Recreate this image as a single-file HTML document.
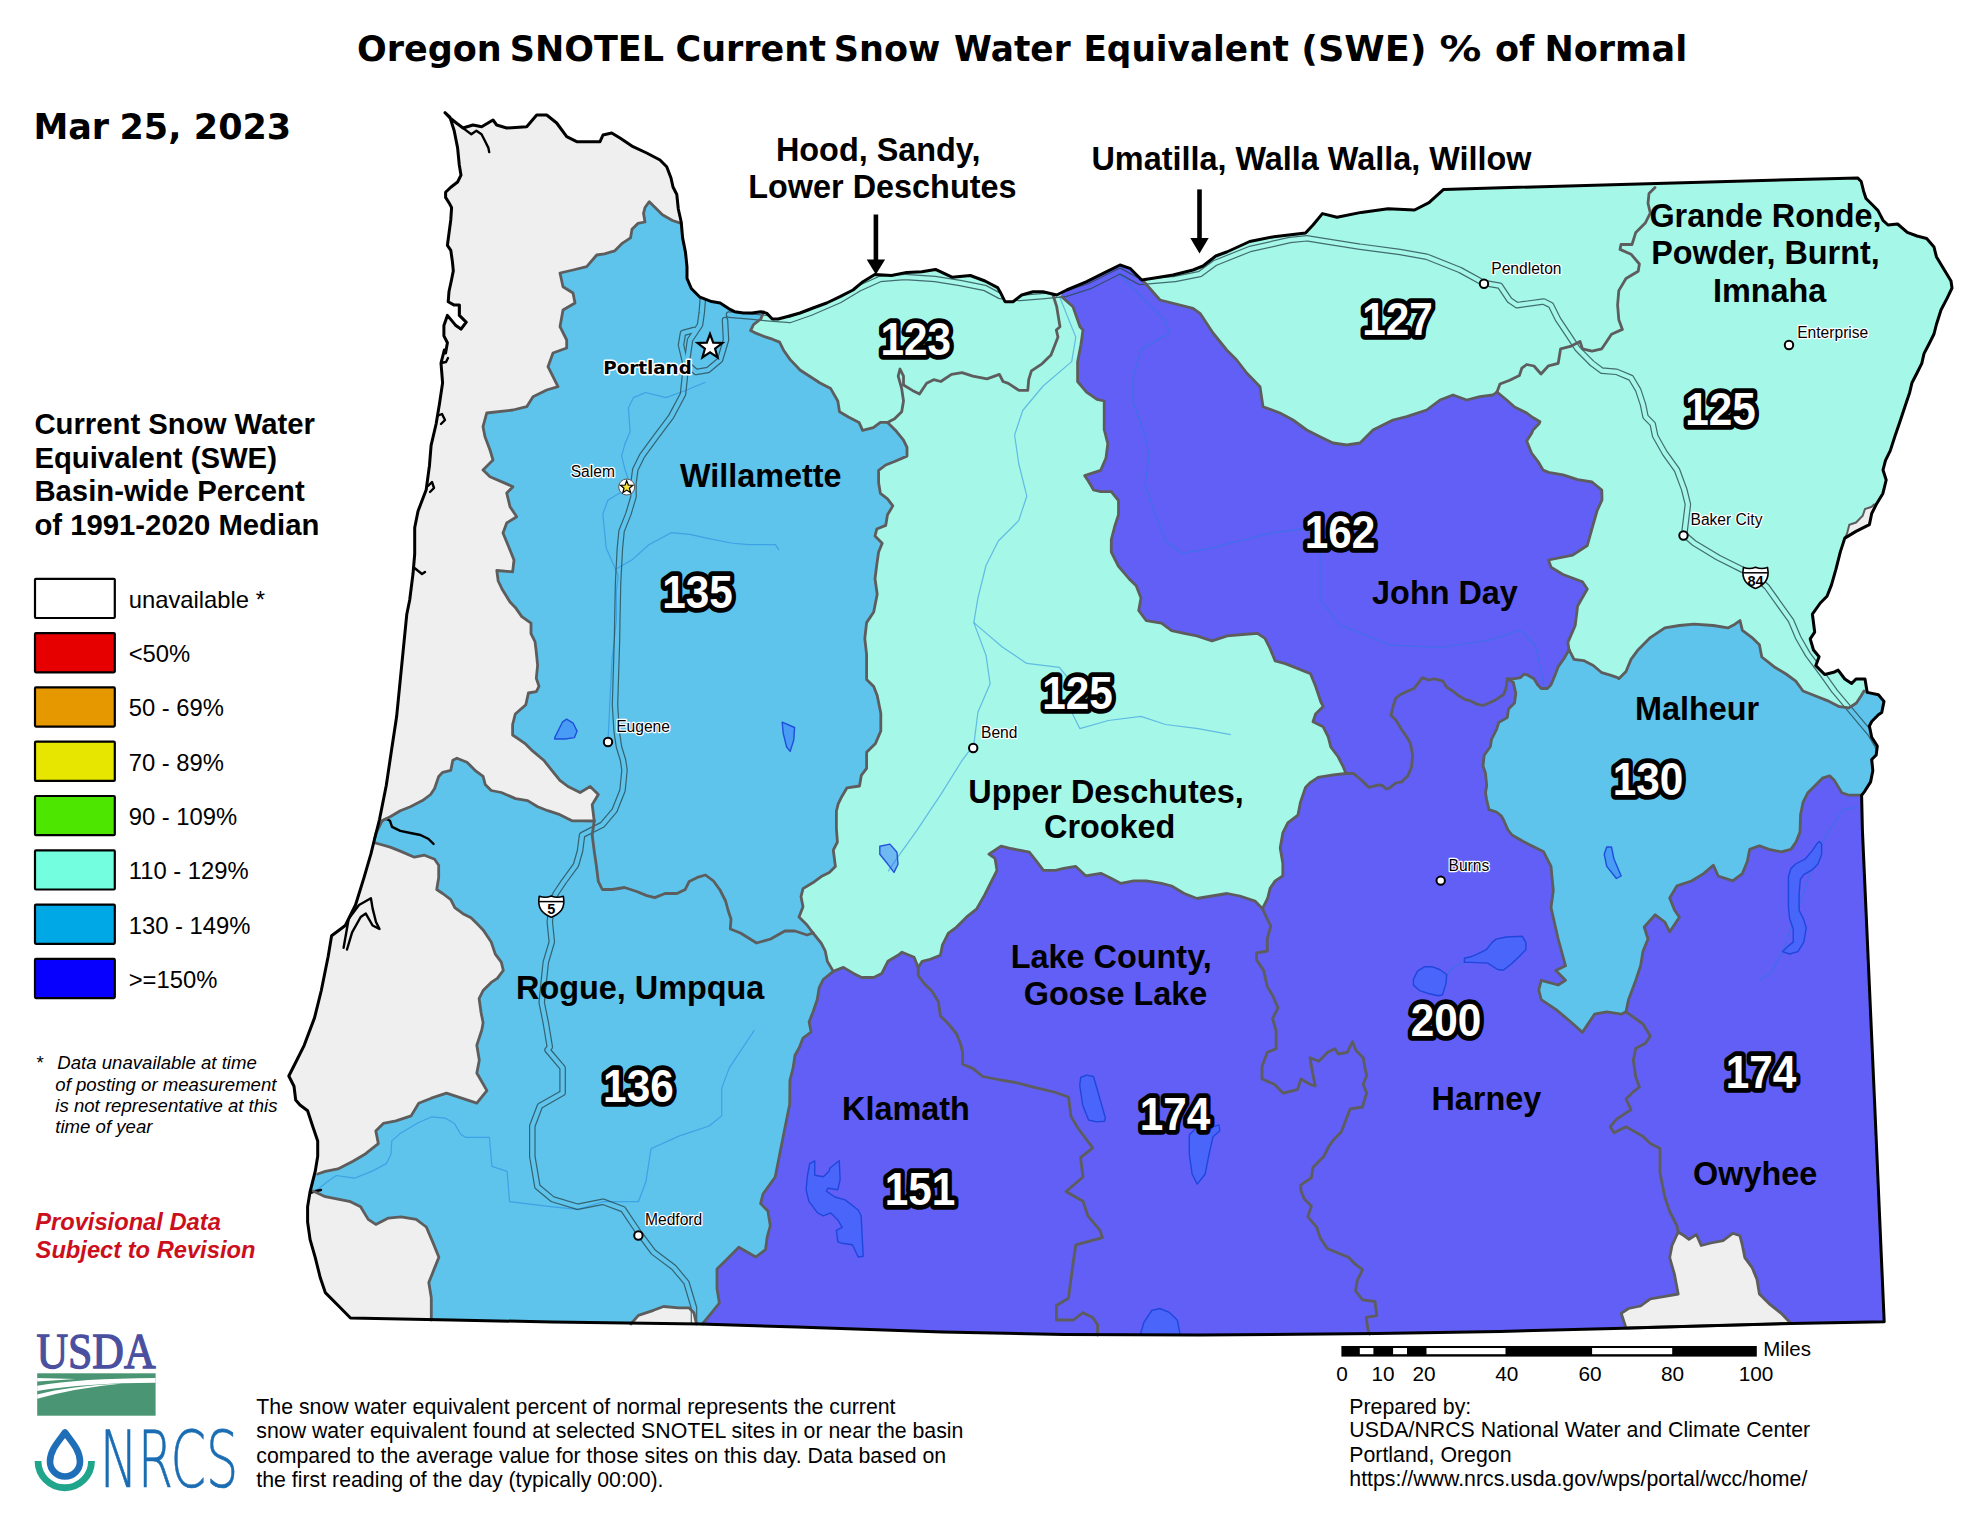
<!DOCTYPE html>
<html><head><meta charset="utf-8"><title>Oregon SNOTEL Current Snow Water Equivalent (SWE) % of Normal</title><style>
html,body{margin:0;padding:0;background:#fff;}
svg{display:block;}
</style></head><body>
<svg width="1980" height="1520" viewBox="0 0 1980 1520">
<rect width="1980" height="1520" fill="#fff"/>
<defs><clipPath id="or"><polygon points="445.0,112.7 450.0,118.0 456.7,123.3 463.0,128.0 473.0,125.0 481.7,126.7 493.0,120.0 496.7,125.0 506.7,128.0 526.7,126.7 536.7,115.0 546.7,115.0 556.7,123.0 566.7,136.7 576.7,141.7 600.0,141.7 603.0,135.0 611.7,133.0 620.0,138.0 633.0,146.7 646.7,153.0 660.0,160.0 666.7,166.7 671.0,178.0 673.0,187.0 676.8,194.5 678.3,209.0 681.2,222.0 682.6,237.9 685.5,252.4 687.0,266.8 687.0,278.4 691.3,288.5 700.0,297.2 711.6,301.6 720.2,303.0 729.0,308.8 734.7,311.7 743.4,313.1 752.0,313.1 760.8,311.7 766.6,313.1 772.3,319.0 778.1,319.0 786.7,316.7 800.0,313.0 813.0,308.0 826.7,303.0 840.0,296.7 853.0,290.0 863.0,281.7 874.8,274.5 891.5,275.5 906.7,272.4 921.8,271.7 935.5,269.4 952.0,277.2 970.3,275.5 985.0,281.0 997.6,287.6 1000.0,291.7 1005.0,301.7 1013.0,301.7 1021.7,295.0 1033.0,291.7 1043.0,291.7 1056.7,295.0 1066.7,290.0 1086.7,281.7 1106.7,271.7 1120.0,265.0 1130.0,268.3 1141.7,280.0 1153.0,278.3 1173.0,275.0 1193.0,270.0 1203.0,266.0 1215.8,256.0 1226.7,252.0 1249.7,241.5 1274.0,236.7 1305.5,233.0 1313.0,225.0 1322.4,213.6 1337.0,217.3 1361.2,212.4 1388.0,208.8 1414.5,210.0 1429.0,202.7 1443.6,189.4 1857.6,177.9 1861.2,181.5 1863.6,191.2 1866.0,198.5 1873.3,205.8 1878.0,210.6 1883.0,220.3 1888.0,225.0 1897.6,224.0 1907.3,232.4 1917.0,236.0 1926.7,238.5 1934.0,247.0 1936.4,256.7 1943.6,268.8 1951.0,281.0 1952.0,288.0 1947.3,297.9 1941.0,310.0 1936.4,324.5 1934.0,334.0 1929.0,344.0 1924.0,353.6 1921.8,363.3 1917.0,373.0 1912.0,382.7 1909.7,392.4 1904.8,407.0 1900.0,421.5 1895.0,436.0 1890.3,450.6 1885.5,460.3 1883.0,470.0 1886.2,480.0 1882.9,493.4 1876.2,504.6 1871.7,513.5 1869.4,524.7 1856.0,531.4 1844.8,538.1 1840.4,551.6 1835.9,569.4 1831.4,585.1 1827.0,596.3 1820.3,603.0 1812.4,614.2 1814.7,632.1 1810.2,638.8 1813.5,650.0 1819.1,656.7 1815.8,665.6 1824.7,674.5 1833.7,672.3 1838.1,670.1 1844.8,679.0 1851.6,683.5 1856.0,679.0 1865.0,679.0 1867.2,692.4 1878.4,694.7 1884.0,701.4 1881.7,712.6 1878.4,714.8 1871.7,721.5 1869.4,726.0 1871.7,737.2 1877.3,746.1 1876.2,755.0 1871.7,759.5 1872.8,770.7 1870.6,781.9 1865.0,790.8 1861.6,795.3 1862.4,830.0 1874.5,1100.0 1884.2,1321.8 1791.0,1323.5 1700.0,1326.0 1614.0,1328.5 1500.0,1331.5 1376.8,1333.5 1200.0,1335.0 1063.6,1334.5 942.4,1332.0 797.0,1327.0 700.0,1324.0 552.5,1322.0 451.5,1320.0 350.5,1318.0 337.9,1305.3 325.3,1292.6 320.2,1277.5 315.2,1257.3 310.1,1239.6 307.6,1222.0 307.6,1206.8 310.1,1191.6 315.2,1171.4 317.7,1156.3 317.7,1141.1 312.6,1126.0 307.6,1110.8 300.0,1105.0 295.7,1100.0 294.0,1086.3 288.8,1076.0 294.0,1065.8 304.2,1045.3 314.5,1017.9 321.3,990.5 328.2,956.3 331.6,935.8 345.3,925.5 355.5,905.0 364.0,877.6 371.0,853.7 374.3,840.0 379.5,819.5 386.3,785.3 391.4,751.0 396.6,716.8 400.0,682.6 403.4,648.4 406.8,614.2 409.7,600.0 413.0,573.8 414.7,554.0 414.7,527.7 418.0,511.2 426.2,489.8 429.5,465.2 431.1,445.4 436.1,424.0 439.4,404.3 442.6,382.9 441.0,363.2 444.3,350.0 445.6,353.0 447.4,342.7 443.9,335.9 443.9,325.6 447.4,315.4 455.9,325.6 461.0,329.1 466.2,322.2 459.3,315.4 459.3,305.1 454.2,305.1 448.2,301.7 449.0,291.5 451.6,279.5 453.3,270.9 452.5,262.4 450.8,250.4 447.4,245.3 449.0,233.3 450.8,219.7 451.6,207.7 449.9,204.3 445.6,197.4 445.6,192.3 450.8,187.2 457.6,182.0 461.0,175.2 459.3,165.0 457.6,147.9 454.2,130.8 449.9,117.1"/></clipPath></defs><g clip-path="url(#or)"><polygon points="250.0,60.0 2000.0,60.0 2000.0,1400.0 250.0,1400.0" fill="#5ec4ec"/><polygon points="681.2,223.4 672.5,220.5 662.4,214.7 655.1,207.5 649.3,201.7 645.0,207.5 643.5,213.3 645.0,222.0 637.8,223.4 632.0,229.2 630.5,237.9 621.8,243.7 614.6,250.9 604.5,253.8 596.7,255.0 586.7,266.7 573.0,270.0 560.0,273.0 563.0,286.7 573.0,293.0 575.0,303.0 563.0,310.0 560.0,326.7 566.7,340.0 566.7,348.0 553.0,353.0 548.0,366.7 558.0,386.7 546.7,390.0 533.0,396.7 526.7,406.7 513.0,410.0 486.7,413.0 483.0,426.7 485.0,436.7 490.0,450.0 493.0,460.0 483.0,470.0 490.0,476.7 513.0,486.7 506.7,493.0 510.0,506.7 516.7,516.7 506.7,523.0 503.0,533.0 510.0,550.0 514.0,560.0 512.6,571.8 496.8,570.5 498.2,581.0 502.0,589.0 510.0,602.0 515.3,607.4 521.8,616.6 531.0,623.2 531.0,633.7 535.0,641.6 536.3,652.0 537.6,665.3 536.3,678.4 539.0,686.3 536.3,691.6 528.4,693.0 525.8,704.7 515.3,714.0 512.6,724.5 512.6,735.0 520.5,740.3 525.8,744.2 531.6,750.1 543.7,760.2 551.8,770.3 559.9,780.4 568.0,786.5 580.1,792.5 590.2,786.5 598.3,794.5 592.2,804.6 594.2,821.0 594.2,821.0 582.1,820.8 572.0,820.8 559.9,814.7 547.8,810.7 537.7,806.7 527.6,800.6 515.5,798.6 501.3,792.5 491.2,790.5 485.2,784.4 483.1,776.4 475.0,770.3 467.0,762.2 456.9,758.2 452.8,760.2 450.8,770.3 442.7,772.3 438.7,776.4 434.6,788.5 430.6,794.5 422.5,800.6 410.4,806.7 400.3,810.7 390.2,816.8 382.1,820.8 376.1,832.9 374.3,840.0 360.0,845.0 250.0,845.0 250.0,60.0 690.0,60.0 690.0,215.0" fill="#efefef"/><polygon points="375.5,843.0 390.2,847.1 400.3,851.1 414.4,857.2 424.5,855.2 434.6,859.2 438.7,865.3 438.7,877.4 436.7,889.5 442.7,893.5 450.8,899.6 454.8,907.7 462.9,913.7 471.0,917.8 477.1,923.8 483.1,929.9 487.2,936.0 491.2,942.0 495.3,954.1 501.3,962.2 503.3,970.3 497.3,978.4 491.2,982.4 483.1,990.5 479.1,998.6 481.1,1012.7 483.1,1022.8 481.8,1030.0 476.8,1045.2 479.3,1060.3 476.8,1073.0 486.9,1090.6 476.8,1103.2 461.6,1098.2 446.5,1093.1 431.3,1098.2 418.7,1103.2 411.1,1115.9 396.0,1120.9 383.3,1123.4 375.8,1131.0 378.3,1143.6 365.7,1153.7 353.0,1161.3 337.9,1168.9 325.3,1171.4 317.7,1174.0 250.0,1174.0 250.0,843.0" fill="#efefef"/><polygon points="313.0,1191.0 325.3,1196.7 337.9,1199.2 350.5,1201.7 360.6,1206.8 368.2,1219.4 375.8,1224.4 388.4,1218.1 401.0,1216.9 416.2,1219.4 426.3,1227.0 433.8,1244.6 438.9,1257.3 433.8,1269.9 428.8,1282.5 431.3,1297.7 431.3,1320.0 431.3,1360.0 250.0,1360.0 250.0,1191.0" fill="#efefef"/><polygon points="763.7,311.7 760.8,319.0 753.5,324.7 750.6,330.5 756.4,333.4 763.7,336.3 772.3,339.2 779.6,342.1 783.9,350.8 790.0,359.4 800.0,370.0 820.0,383.0 830.7,388.6 837.8,401.0 839.5,411.7 848.4,417.0 859.0,422.4 862.6,430.4 873.3,427.7 880.4,422.4 887.5,422.4 887.5,422.4 896.4,431.3 903.5,440.1 907.0,447.3 907.0,456.1 894.6,461.5 885.7,465.0 878.6,470.3 878.6,482.8 880.4,493.4 887.5,498.8 892.8,505.9 887.5,514.8 885.7,525.4 876.8,529.0 875.0,536.0 882.2,543.2 878.6,552.0 876.8,564.5 875.0,578.7 877.2,594.2 873.7,612.0 866.6,622.6 864.8,638.6 866.6,654.6 866.6,679.5 873.7,686.6 877.2,695.5 880.8,713.2 880.8,731.0 875.5,743.4 866.6,752.3 866.6,768.3 861.3,775.4 859.5,786.0 847.0,787.8 841.7,796.7 838.2,803.8 836.4,811.0 836.4,828.7 837.4,842.0 833.3,850.2 835.4,866.4 829.3,872.4 821.2,876.5 813.1,882.5 803.0,888.6 801.0,896.7 803.0,906.8 799.0,916.9 807.0,925.0 813.0,933.0 813.0,933.0 821.2,943.1 825.3,951.2 827.3,961.3 833.3,971.4 833.3,971.4 843.4,967.4 853.5,973.4 861.6,977.5 873.7,977.5 881.8,973.4 887.9,961.3 898.0,955.3 902.0,952.2 914.1,957.3 918.2,967.4 918.2,967.4 922.2,961.3 930.3,959.3 940.4,955.3 942.4,945.2 948.5,933.0 956.6,927.0 966.7,916.9 976.8,908.8 984.8,894.6 990.9,882.5 997.0,870.4 995.0,858.3 988.9,854.2 1001.0,846.2 1009.1,848.2 1019.2,850.2 1029.3,852.2 1037.4,862.3 1043.4,870.4 1055.6,870.4 1063.6,868.4 1075.8,866.4 1085.7,875.8 1100.8,873.3 1111.0,878.3 1121.0,883.4 1133.7,880.9 1146.3,880.9 1161.5,883.4 1171.6,886.0 1184.2,893.5 1196.9,898.5 1212.0,896.0 1227.2,893.5 1239.8,896.0 1255.0,901.1 1262.5,908.7 1262.5,908.7 2000.0,908.7 2000.0,60.0 763.7,60.0" fill="#a5f7e8"/><polygon points="1061.7,296.7 1073.0,306.7 1080.0,326.7 1083.0,330.0 1081.0,344.2 1077.6,362.0 1077.6,381.5 1086.5,392.2 1097.0,399.3 1104.2,401.0 1104.2,415.3 1104.2,429.5 1107.8,443.7 1106.0,458.0 1100.7,470.3 1084.7,475.7 1088.3,481.0 1093.6,490.0 1100.7,491.7 1111.3,491.7 1118.5,500.5 1118.5,514.8 1115.0,525.4 1111.3,539.6 1111.3,552.0 1118.5,566.3 1129.0,578.7 1136.2,585.8 1141.0,598.0 1138.7,610.5 1146.3,620.6 1161.5,623.2 1171.6,630.7 1184.2,633.3 1196.9,635.8 1212.0,640.8 1227.2,635.8 1242.3,634.5 1257.5,633.3 1265.0,638.3 1270.0,648.4 1275.2,661.0 1285.3,663.6 1298.0,668.6 1310.5,673.7 1315.6,686.3 1320.7,701.5 1323.2,706.5 1315.6,714.0 1313.0,721.7 1323.2,726.8 1328.2,736.9 1330.8,747.0 1338.3,757.0 1343.4,767.2 1346.0,773.5 1346.0,773.5 1353.5,773.5 1361.0,779.8 1369.0,787.4 1378.8,784.9 1382.4,785.5 1386.0,789.0 1389.7,787.9 1395.8,783.0 1401.8,781.8 1407.9,775.8 1411.5,767.3 1412.7,755.2 1410.3,743.0 1406.7,737.0 1401.8,729.7 1395.8,720.0 1391.0,715.2 1393.3,705.5 1395.8,698.2 1400.6,694.5 1407.9,691.0 1414.0,688.5 1418.8,682.4 1422.4,677.6 1428.5,680.0 1434.5,678.8 1443.0,681.2 1446.7,687.3 1452.7,691.0 1458.8,695.8 1464.8,699.4 1469.7,700.6 1477.0,704.2 1483.0,705.5 1489.0,703.0 1496.4,699.4 1503.6,694.5 1506.0,688.5 1507.3,678.8 1507.3,678.8 1513.3,678.8 1520.6,677.6 1524.2,674.0 1527.9,675.2 1534.0,678.8 1537.6,684.8 1541.2,688.5 1547.3,688.5 1551.0,684.8 1554.5,676.4 1558.2,666.7 1564.2,658.2 1569.0,649.7 1569.0,649.7 1567.9,642.4 1575.2,625.5 1577.6,606.0 1587.3,589.0 1582.4,581.8 1563.0,574.5 1551.0,567.3 1548.5,560.0 1572.7,555.2 1587.3,545.5 1592.0,528.5 1597.0,511.0 1602.0,500.0 1601.8,490.0 1592.0,482.0 1577.6,479.7 1563.0,474.8 1548.5,472.4 1543.0,470.0 1538.8,462.7 1531.5,453.0 1526.7,441.0 1531.5,433.6 1533.0,430.0 1538.8,424.0 1540.0,421.7 1531.5,416.7 1526.7,413.0 1514.5,407.0 1506.7,400.0 1497.0,392.0 1497.0,392.0 1493.0,395.0 1480.0,396.7 1466.7,400.0 1453.0,395.0 1440.0,400.0 1426.7,410.0 1406.7,416.7 1393.0,420.0 1373.0,430.0 1360.0,443.0 1346.7,445.0 1333.0,443.0 1320.0,436.7 1306.7,430.0 1293.0,420.0 1280.0,413.0 1263.0,406.7 1260.0,386.7 1246.7,373.0 1236.7,360.0 1226.7,350.0 1213.0,333.0 1200.0,313.3 1193.0,308.3 1160.0,300.0 1143.3,281.0 1143.0,240.0 1061.7,240.0" fill="#615ff6"/><polygon points="833.3,971.4 843.4,967.4 853.5,973.4 861.6,977.5 873.7,977.5 881.8,973.4 887.9,961.3 898.0,955.3 902.0,952.2 914.1,957.3 918.2,967.4 918.2,967.4 922.2,961.3 930.3,959.3 940.4,955.3 942.4,945.2 948.5,933.0 956.6,927.0 966.7,916.9 976.8,908.8 984.8,894.6 990.9,882.5 997.0,870.4 995.0,858.3 988.9,854.2 1001.0,846.2 1009.1,848.2 1019.2,850.2 1029.3,852.2 1037.4,862.3 1043.4,870.4 1055.6,870.4 1063.6,868.4 1075.8,866.4 1085.7,875.8 1100.8,873.3 1111.0,878.3 1121.0,883.4 1133.7,880.9 1146.3,880.9 1161.5,883.4 1171.6,886.0 1184.2,893.5 1196.9,898.5 1212.0,896.0 1227.2,893.5 1239.8,896.0 1255.0,901.1 1262.5,908.7 1262.5,908.7 1267.6,898.5 1270.1,888.4 1275.2,880.9 1282.8,875.8 1282.8,863.2 1280.2,848.0 1282.8,832.9 1287.8,822.8 1297.9,815.2 1300.4,802.5 1305.5,787.4 1310.6,782.3 1318.1,777.3 1333.3,774.8 1346.0,773.5 1346.0,773.5 1353.5,773.5 1361.0,779.8 1369.0,787.4 1378.8,784.9 1382.4,785.5 1386.0,789.0 1389.7,787.9 1395.8,783.0 1401.8,781.8 1407.9,775.8 1411.5,767.3 1412.7,755.2 1410.3,743.0 1406.7,737.0 1401.8,729.7 1395.8,720.0 1391.0,715.2 1393.3,705.5 1395.8,698.2 1400.6,694.5 1407.9,691.0 1414.0,688.5 1418.8,682.4 1422.4,677.6 1428.5,680.0 1434.5,678.8 1443.0,681.2 1446.7,687.3 1452.7,691.0 1458.8,695.8 1464.8,699.4 1469.7,700.6 1477.0,704.2 1483.0,705.5 1489.0,703.0 1496.4,699.4 1503.6,694.5 1506.0,688.5 1507.3,678.8 1507.3,678.8 1513.3,682.4 1515.8,693.3 1514.5,703.0 1508.5,709.0 1507.3,717.6 1498.8,722.4 1496.4,729.7 1491.5,739.4 1490.3,746.7 1484.2,755.2 1483.0,766.0 1485.5,773.3 1486.7,785.5 1485.5,792.7 1486.7,800.0 1489.0,809.7 1496.4,812.0 1501.2,815.8 1503.6,820.0 1508.0,830.0 1512.0,835.0 1524.2,842.0 1543.6,851.8 1551.0,866.4 1553.3,890.6 1551.0,907.6 1558.2,939.0 1565.5,965.8 1555.8,970.6 1565.5,980.3 1558.2,985.0 1541.2,980.3 1538.8,990.0 1541.2,999.7 1555.8,1009.4 1570.3,1021.5 1582.4,1032.4 1594.5,1014.2 1606.7,1011.8 1621.2,1014.2 1626.0,1011.8 1626.0,1011.8 1628.5,999.7 1635.8,980.3 1640.6,965.8 1643.0,951.2 1648.0,939.0 1644.2,927.0 1655.2,914.8 1664.8,922.0 1669.7,931.8 1679.4,917.3 1674.5,910.0 1669.7,897.9 1677.0,885.8 1691.5,881.0 1703.6,873.6 1713.3,865.2 1718.2,876.0 1732.7,880.9 1742.4,873.6 1747.3,861.5 1749.7,849.4 1759.4,845.8 1769.0,849.4 1781.2,851.8 1790.9,849.4 1796.0,842.0 1800.0,832.0 1800.6,814.5 1803.0,802.4 1807.9,792.7 1815.2,785.5 1822.4,778.2 1829.7,775.8 1834.5,780.6 1841.8,792.7 1849.0,795.2 1861.5,795.2 1950.0,795.0 1950.0,1400.0 650.0,1400.0 702.4,1400.0 702.4,1324.0 709.7,1315.2 719.4,1303.0 717.0,1288.5 717.0,1269.0 726.7,1259.4 738.8,1247.3 755.8,1257.0 765.5,1249.7 767.2,1237.0 770.3,1225.5 767.9,1211.0 760.6,1203.6 763.0,1194.0 775.2,1177.0 780.0,1152.7 784.8,1128.5 789.7,1104.2 789.9,1080.5 793.0,1068.4 795.0,1055.3 799.0,1048.2 803.0,1038.1 811.1,1032.0 809.1,1021.9 813.1,1011.8 817.2,999.7 819.2,987.6 823.2,979.5 833.3,971.4" fill="#615ff6"/><polygon points="1569.0,649.7 1574.0,659.4 1583.6,660.6 1593.3,665.5 1601.8,672.7 1610.3,675.2 1617.6,677.6 1618.8,678.8 1626.0,671.5 1631.0,659.4 1638.2,649.7 1650.3,637.6 1664.8,627.9 1679.4,625.5 1694.0,624.2 1713.3,625.5 1727.9,627.9 1735.0,624.2 1740.0,620.6 1742.4,630.3 1752.0,637.6 1759.4,644.8 1761.8,657.0 1774.0,666.7 1786.0,674.0 1795.8,681.2 1803.0,691.0 1815.0,695.8 1827.3,700.6 1839.4,706.7 1849.0,707.9 1856.4,703.0 1861.2,695.8 1864.0,691.0 1950.0,691.0 1950.0,795.0 1861.5,795.2 1849.0,795.2 1841.8,792.7 1834.5,780.6 1829.7,775.8 1822.4,778.2 1815.2,785.5 1807.9,792.7 1803.0,802.4 1800.6,814.5 1800.0,832.0 1796.0,842.0 1790.9,849.4 1781.2,851.8 1769.0,849.4 1759.4,845.8 1749.7,849.4 1747.3,861.5 1742.4,873.6 1732.7,880.9 1718.2,876.0 1713.3,865.2 1703.6,873.6 1691.5,881.0 1677.0,885.8 1669.7,897.9 1674.5,910.0 1679.4,917.3 1669.7,931.8 1664.8,922.0 1655.2,914.8 1644.2,927.0 1648.0,939.0 1643.0,951.2 1640.6,965.8 1635.8,980.3 1628.5,999.7 1626.0,1011.8 1626.0,1011.8 1621.2,1014.2 1606.7,1011.8 1594.5,1014.2 1582.4,1032.4 1570.3,1021.5 1555.8,1009.4 1541.2,999.7 1538.8,990.0 1541.2,980.3 1558.2,985.0 1565.5,980.3 1555.8,970.6 1565.5,965.8 1558.2,939.0 1551.0,907.6 1553.3,890.6 1551.0,866.4 1543.6,851.8 1524.2,842.0 1512.0,835.0 1508.0,830.0 1503.6,820.0 1501.2,815.8 1496.4,812.0 1489.0,809.7 1486.7,800.0 1485.5,792.7 1486.7,785.5 1485.5,773.3 1483.0,766.0 1484.2,755.2 1490.3,746.7 1491.5,739.4 1496.4,729.7 1498.8,722.4 1507.3,717.6 1508.5,709.0 1514.5,703.0 1515.8,693.3 1513.3,682.4 1507.3,678.8 1507.3,678.8 1513.3,678.8 1520.6,677.6 1524.2,674.0 1527.9,675.2 1534.0,678.8 1537.6,684.8 1541.2,688.5 1547.3,688.5 1551.0,684.8 1554.5,676.4 1558.2,666.7 1564.2,658.2 1569.0,649.7" fill="#5ec4ec"/><polygon points="1678.2,1232.0 1684.2,1235.8 1689.0,1239.4 1696.4,1234.5 1701.2,1245.5 1711.0,1243.0 1723.0,1240.6 1732.7,1233.3 1740.0,1235.8 1742.4,1245.5 1744.8,1257.6 1752.0,1267.3 1757.0,1279.4 1759.4,1294.0 1769.0,1303.6 1781.2,1313.3 1791.0,1323.5 1626.0,1328.0 1621.2,1313.3 1628.5,1308.5 1640.6,1306.0 1650.3,1298.8 1665.0,1296.4 1678.2,1294.0 1674.5,1274.5 1669.7,1257.6 1672.0,1245.5" fill="#efefef"/><polygon points="1844.8,538.1 1847.0,533.7 1849.3,524.7 1856.0,522.5 1862.7,515.8 1865.0,509.0 1871.7,506.8 1874.0,504.6 1876.2,504.6 1871.7,513.5 1869.4,524.7 1856.0,531.4" fill="#efefef" stroke="#5d5d5d" stroke-width="2"/><polygon points="630.8,1324.0 638.4,1315.4 653.5,1310.3 663.6,1306.5 678.8,1307.8 688.9,1307.8 693.9,1312.8 696.5,1324.0 696.5,1360.0 630.8,1360.0" fill="#efefef"/></g><g clip-path="url(#or)"><polyline points="705.4,382.2 684.8,390.8 666.0,397.6 645.5,392.5 633.5,397.6 628.4,407.9 630.1,431.8 625.0,443.8 621.6,455.8 625.0,469.5 628.4,479.7 625.0,490.0 616.4,495.1 607.9,500.2 602.8,513.9 604.5,531.0 606.2,548.1 613.0,563.5 618.1,575.5 616.4,590.9 616.4,620.0 612.0,660.0 610.0,700.0 608.0,741.0" fill="none" stroke="#1e7fe0" stroke-opacity="0.5" stroke-width="1.2" stroke-linejoin="round"/><polyline points="616.4,568.7 631.8,560.1 648.9,544.7 671.2,532.7 690.0,534.4 705.4,537.9 731.0,543.0 748.1,544.7 775.5,544.7 778.9,549.8" fill="none" stroke="#1e7fe0" stroke-opacity="0.5" stroke-width="1.2" stroke-linejoin="round"/><polyline points="1446.7,974.5 1455.0,966.0 1464.4,962.4" fill="none" stroke="#1e7fe0" stroke-opacity="0.5" stroke-width="1.2" stroke-linejoin="round"/><polyline points="1059.4,296.3 1075.8,337.1 1071.7,361.6 1043.1,386.0 1022.7,410.5 1014.6,435.0 1018.7,463.5 1026.8,496.2 1018.7,520.6 998.3,541.0 986.0,565.5 977.9,598.1 973.8,622.6 986.0,655.2 990.1,683.7 977.9,712.3 973.8,744.9 961.6,761.2 941.2,793.9 916.7,830.6 896.3,859.1 888.2,871.4" fill="none" stroke="#1e7fe0" stroke-opacity="0.5" stroke-width="1.2" stroke-linejoin="round"/><polyline points="973.8,622.6 1002.3,647.0 1026.8,663.4 1059.4,667.4 1075.8,687.8 1071.7,712.3 1079.8,728.6 1108.4,720.5 1141.0,716.4 1165.5,724.5 1198.1,728.6 1230.7,734.7" fill="none" stroke="#1e7fe0" stroke-opacity="0.5" stroke-width="1.2" stroke-linejoin="round"/><polyline points="1117.5,272.5 1145.1,300.4 1165.5,320.8 1169.6,333.0 1141.0,349.3 1132.9,377.9 1132.9,402.3 1145.1,435.0 1149.2,455.4 1145.1,483.9 1153.2,508.4 1165.5,541.0 1181.8,553.2 1206.3,549.2 1238.9,541.0 1271.5,532.9 1304.1,528.8 1320.0,540.0 1320.0,600.0 1340.0,625.0 1390.0,645.0 1440.0,647.5 1490.0,640.0 1520.0,630.0 1535.0,645.0 1540.0,665.0 1545.0,690.0" fill="none" stroke="#1e7fe0" stroke-opacity="0.5" stroke-width="1.2" stroke-linejoin="round"/><polyline points="313.6,1192.7 327.3,1181.8 336.4,1175.5 354.5,1178.2 372.7,1170.9 386.4,1163.6 390.9,1154.5 391.8,1140.9 400.0,1133.6 418.2,1122.7 431.8,1116.8 445.5,1118.2 454.5,1123.6 460.9,1134.5 465.5,1137.3 489.4,1137.3 491.9,1166.4 507.1,1171.4 509.6,1201.7 552.5,1206.8 577.8,1209.3 603.0,1201.7 638.4,1201.7 646.0,1181.5 651.0,1148.7 678.8,1136.1 709.1,1126.0 721.7,1115.9 721.7,1088.1 729.3,1067.9 754.5,1030.0" fill="none" stroke="#1e7fe0" stroke-opacity="0.5" stroke-width="1.2" stroke-linejoin="round"/><polyline points="1858.3,807.1 1842.9,809.5 1821.0,843.0 1782.5,951.6 1771.8,971.8 1760.0,980.0" fill="none" stroke="#1e7fe0" stroke-opacity="0.5" stroke-width="1.2" stroke-linejoin="round"/><polygon points="554.7,737.6 562.6,721.8 566.6,719.2 573.2,723.2 577.1,731.1 574.5,737.6 565.3,739.0 554.7,739.0" fill="#2f6cff" fill-opacity="0.45" stroke="#1a44d8" stroke-opacity="0.9" stroke-width="1.4" stroke-linejoin="round"/><polygon points="782.2,722.1 794.6,727.5 793.8,739.9 790.2,751.4 786.6,747.0 783.1,732.8" fill="#2f6cff" fill-opacity="0.45" stroke="#1a44d8" stroke-opacity="0.9" stroke-width="1.4" stroke-linejoin="round"/><polygon points="1606.7,847.0 1611.5,847.0 1614.0,859.1 1621.2,876.0 1616.4,878.5 1606.7,866.4 1604.2,854.2" fill="#2f6cff" fill-opacity="0.45" stroke="#1a44d8" stroke-opacity="0.9" stroke-width="1.4" stroke-linejoin="round"/><polygon points="879.8,846.2 889.9,844.1 897.0,852.2 898.0,864.3 894.0,872.4 887.9,864.3 879.8,854.2" fill="#2f6cff" fill-opacity="0.45" stroke="#1a44d8" stroke-opacity="0.9" stroke-width="1.4" stroke-linejoin="round"/><polygon points="809.7,1163.7 814.7,1160.8 814.7,1175.3 823.4,1176.7 829.2,1170.9 829.9,1168.0 839.3,1160.8 840.1,1179.6 837.9,1189.7 827.8,1188.3 826.3,1191.2 835.0,1197.0 845.1,1199.9 858.2,1210.0 861.1,1215.8 863.2,1256.3 858.2,1257.0 852.4,1244.7 842.2,1243.3 837.9,1241.8 836.4,1230.3 842.2,1227.4 837.9,1220.1 830.7,1212.9 823.4,1215.8 817.6,1212.9 808.9,1201.3 806.1,1189.7 807.5,1175.3" fill="#2f6cff" fill-opacity="0.45" stroke="#1a44d8" stroke-opacity="0.9" stroke-width="1.4" stroke-linejoin="round"/><polygon points="1080.7,1077.5 1086.6,1075.1 1093.5,1076.5 1105.4,1118.0 1104.4,1121.3 1096.5,1121.9 1088.6,1120.0 1082.7,1105.2 1079.7,1085.4" fill="#2f6cff" fill-opacity="0.45" stroke="#1a44d8" stroke-opacity="0.9" stroke-width="1.4" stroke-linejoin="round"/><polygon points="1189.3,1134.8 1197.2,1126.9 1207.0,1132.8 1213.0,1126.9 1218.9,1124.9 1219.9,1130.8 1213.0,1136.7 1209.0,1154.5 1205.1,1174.3 1197.2,1184.1 1192.2,1174.3 1189.3,1154.5" fill="#2f6cff" fill-opacity="0.45" stroke="#1a44d8" stroke-opacity="0.9" stroke-width="1.4" stroke-linejoin="round"/><polygon points="1139.9,1336.0 1143.9,1322.3 1151.8,1310.5 1159.7,1308.5 1169.5,1312.4 1177.4,1320.3 1180.4,1336.0" fill="#2f6cff" fill-opacity="0.45" stroke="#1a44d8" stroke-opacity="0.9" stroke-width="1.4" stroke-linejoin="round"/><polygon points="1413.4,979.4 1417.7,970.9 1424.8,966.7 1431.8,966.7 1439.6,969.5 1446.7,974.5 1446.0,983.6 1442.4,995.0 1438.2,995.7 1428.3,993.5 1419.8,990.7 1413.4,985.1" fill="#2f6cff" fill-opacity="0.45" stroke="#1a44d8" stroke-opacity="0.9" stroke-width="1.4" stroke-linejoin="round"/><polygon points="1464.4,958.2 1470.7,956.8 1477.8,953.9 1486.3,949.7 1491.9,942.6 1496.2,939.1 1506.1,937.0 1522.3,936.3 1525.9,942.6 1525.9,949.7 1520.2,955.4 1511.7,963.8 1503.3,970.2 1497.6,969.5 1487.7,963.1 1470.7,962.4 1464.4,962.4" fill="#2f6cff" fill-opacity="0.45" stroke="#1a44d8" stroke-opacity="0.9" stroke-width="1.4" stroke-linejoin="round"/><polygon points="1819.2,841.5 1821.6,843.8 1821.6,854.5 1818.0,864.0 1812.1,869.9 1803.8,874.6 1800.3,879.4 1799.1,894.8 1799.1,910.2 1803.8,919.6 1806.2,928.0 1803.8,942.1 1797.9,951.6 1789.6,954.0 1782.5,951.6 1787.2,946.9 1793.2,942.1 1793.2,929.1 1789.6,918.5 1788.4,906.6 1788.4,892.4 1788.4,877.0 1790.8,868.7 1795.5,864.0 1805.0,859.2 1812.1,850.9 1816.9,843.8" fill="#2f6cff" fill-opacity="0.45" stroke="#1a44d8" stroke-opacity="0.9" stroke-width="1.4" stroke-linejoin="round"/><mask id="rm" maskUnits="userSpaceOnUse" x="0" y="0" width="1980" height="1520"><polyline points="703.0,297.0 701.7,313.0 700.0,325.0 690.0,340.0 684.8,377.1 683.0,394.2 671.2,416.4 655.8,437.0 642.1,455.8 635.3,469.5 633.5,483.1 633.5,496.8 628.4,513.9 621.6,531.0 619.9,548.1 618.1,582.3 617.3,620.0 617.0,640.0 615.0,704.7 616.6,731.0 619.0,747.0 623.0,760.0 624.5,770.0 622.5,790.5 614.4,810.7 602.3,824.8 582.1,835.0 580.0,851.0 576.0,865.0 564.0,881.4 555.9,893.5 551.8,901.6 549.8,921.8 551.8,942.0 545.8,962.2 543.7,982.4 541.7,1002.6 545.8,1022.8 549.8,1047.0 547.5,1050.0 562.6,1067.9 562.6,1093.0 540.0,1105.8 532.3,1126.0 532.3,1156.3 537.4,1186.6 552.5,1199.2 577.8,1206.8 603.0,1201.7 623.2,1209.3 638.4,1232.0 653.5,1252.2 673.7,1267.4 686.4,1282.5 694.0,1307.8 694.0,1324.0" fill="none" stroke="#fff" stroke-width="6.6" stroke-linejoin="round" stroke-linecap="round"/><polyline points="729.0,314.6 750.0,316.5 770.0,318.5 790.0,320.0 810.0,313.0 840.0,300.0 860.0,288.0 880.0,279.0 905.0,277.0 935.0,279.0 960.0,283.0 985.0,288.0 1000.0,296.0 1020.0,298.0 1045.0,296.0 1065.0,294.0 1090.0,286.0 1120.0,271.0 1140.0,282.0 1175.0,279.0 1200.0,274.0 1215.0,263.0 1250.0,249.0 1290.0,240.0 1306.7,238.3 1330.0,242.0 1360.0,246.7 1400.0,252.0 1426.7,256.7 1460.0,270.0 1483.0,282.7 1500.0,285.8 1509.7,300.3 1517.0,305.2 1543.6,301.5 1551.0,305.2 1558.2,319.7 1567.9,334.2 1577.6,348.8 1592.0,363.3 1601.8,370.6 1616.4,371.8 1631.0,377.9 1638.2,390.0 1643.0,404.5 1645.5,416.7 1652.7,424.0 1655.2,436.0 1664.8,453.0 1677.0,470.0 1684.2,489.4 1687.9,504.2 1684.2,534.5 1694.0,543.0 1718.2,557.6 1742.4,569.7 1755.8,577.0 1766.7,586.7 1778.8,603.6 1791.0,620.6 1798.2,637.6 1807.9,654.5 1822.4,674.0 1834.5,691.0 1846.7,705.5 1858.8,720.0 1871.0,734.5 1878.0,746.7" fill="none" stroke="#fff" stroke-width="6.6" stroke-linejoin="round" stroke-linecap="round"/><polyline points="694.0,330.0 683.0,333.0 681.0,345.0 685.0,362.0 696.0,372.0 708.0,370.0 720.0,360.0 726.0,340.0 725.0,320.0" fill="none" stroke="#fff" stroke-width="6.6" stroke-linejoin="round" stroke-linecap="round"/><polyline points="703.0,297.0 701.7,313.0 700.0,325.0 690.0,340.0 684.8,377.1 683.0,394.2 671.2,416.4 655.8,437.0 642.1,455.8 635.3,469.5 633.5,483.1 633.5,496.8 628.4,513.9 621.6,531.0 619.9,548.1 618.1,582.3 617.3,620.0 617.0,640.0 615.0,704.7 616.6,731.0 619.0,747.0 623.0,760.0 624.5,770.0 622.5,790.5 614.4,810.7 602.3,824.8 582.1,835.0 580.0,851.0 576.0,865.0 564.0,881.4 555.9,893.5 551.8,901.6 549.8,921.8 551.8,942.0 545.8,962.2 543.7,982.4 541.7,1002.6 545.8,1022.8 549.8,1047.0 547.5,1050.0 562.6,1067.9 562.6,1093.0 540.0,1105.8 532.3,1126.0 532.3,1156.3 537.4,1186.6 552.5,1199.2 577.8,1206.8 603.0,1201.7 623.2,1209.3 638.4,1232.0 653.5,1252.2 673.7,1267.4 686.4,1282.5 694.0,1307.8 694.0,1324.0" fill="none" stroke="#000" stroke-width="4.2" stroke-linejoin="round" stroke-linecap="round"/><polyline points="729.0,314.6 750.0,316.5 770.0,318.5 790.0,320.0 810.0,313.0 840.0,300.0 860.0,288.0 880.0,279.0 905.0,277.0 935.0,279.0 960.0,283.0 985.0,288.0 1000.0,296.0 1020.0,298.0 1045.0,296.0 1065.0,294.0 1090.0,286.0 1120.0,271.0 1140.0,282.0 1175.0,279.0 1200.0,274.0 1215.0,263.0 1250.0,249.0 1290.0,240.0 1306.7,238.3 1330.0,242.0 1360.0,246.7 1400.0,252.0 1426.7,256.7 1460.0,270.0 1483.0,282.7 1500.0,285.8 1509.7,300.3 1517.0,305.2 1543.6,301.5 1551.0,305.2 1558.2,319.7 1567.9,334.2 1577.6,348.8 1592.0,363.3 1601.8,370.6 1616.4,371.8 1631.0,377.9 1638.2,390.0 1643.0,404.5 1645.5,416.7 1652.7,424.0 1655.2,436.0 1664.8,453.0 1677.0,470.0 1684.2,489.4 1687.9,504.2 1684.2,534.5 1694.0,543.0 1718.2,557.6 1742.4,569.7 1755.8,577.0 1766.7,586.7 1778.8,603.6 1791.0,620.6 1798.2,637.6 1807.9,654.5 1822.4,674.0 1834.5,691.0 1846.7,705.5 1858.8,720.0 1871.0,734.5 1878.0,746.7" fill="none" stroke="#000" stroke-width="4.2" stroke-linejoin="round" stroke-linecap="round"/><polyline points="694.0,330.0 683.0,333.0 681.0,345.0 685.0,362.0 696.0,372.0 708.0,370.0 720.0,360.0 726.0,340.0 725.0,320.0" fill="none" stroke="#000" stroke-width="4.2" stroke-linejoin="round" stroke-linecap="round"/></mask><rect width="1980" height="1520" fill="#284a52" fill-opacity="0.8" mask="url(#rm)"/><polyline points="382.0,820.8 386.0,818.8 390.0,820.8 392.0,826.9 400.3,830.9 410.4,833.0 420.5,835.0 428.6,839.0 433.6,844.0" fill="none" stroke="#000" stroke-width="2.4" stroke-linejoin="round" stroke-linecap="round"/><polyline points="343.6,947.8 348.7,918.7 359.0,905.0 370.9,898.2 372.6,908.4 376.0,922.0 379.5,929.0 372.6,925.5 365.8,913.6 360.7,917.0 352.1,932.4 347.0,949.5" fill="none" stroke="#000" stroke-width="2.4" stroke-linejoin="round" stroke-linecap="round"/><polyline points="461.0,125.6 464.4,129.1 471.3,134.2 476.4,130.8 481.5,134.2 485.0,141.0 488.4,147.9 489.2,152.1" fill="none" stroke="#000" stroke-width="2.4" stroke-linejoin="round" stroke-linecap="round"/><polyline points="310.0,1193.0 316.0,1191.0 321.0,1190.0" fill="none" stroke="#000" stroke-width="2.4" stroke-linejoin="round" stroke-linecap="round"/><polyline points="454.2,305.1 459.3,305.1 459.3,315.4 466.2,322.2 461.0,329.1 455.9,325.6" fill="none" stroke="#000" stroke-width="2.4" stroke-linejoin="round" stroke-linecap="round"/><polyline points="441.0,363.0 446.0,362.0 448.0,358.0" fill="none" stroke="#000" stroke-width="2.4" stroke-linejoin="round" stroke-linecap="round"/><polyline points="437.0,416.0 442.0,414.0 445.0,420.0 441.0,424.0" fill="none" stroke="#000" stroke-width="2.4" stroke-linejoin="round" stroke-linecap="round"/><polyline points="428.0,486.0 432.0,482.0 434.0,488.0 430.0,492.0" fill="none" stroke="#000" stroke-width="2.4" stroke-linejoin="round" stroke-linecap="round"/><polyline points="412.0,566.0 417.0,570.0 422.0,574.0 425.0,572.0" fill="none" stroke="#000" stroke-width="2.4" stroke-linejoin="round" stroke-linecap="round"/></g><g fill="none" stroke="#5d5d5d" stroke-width="2.8" stroke-linejoin="round" stroke-linecap="round"><polyline points="681.2,223.4 672.5,220.5 662.4,214.7 655.1,207.5 649.3,201.7 645.0,207.5 643.5,213.3 645.0,222.0 637.8,223.4 632.0,229.2 630.5,237.9 621.8,243.7 614.6,250.9 604.5,253.8 596.7,255.0 586.7,266.7 573.0,270.0 560.0,273.0 563.0,286.7 573.0,293.0 575.0,303.0 563.0,310.0 560.0,326.7 566.7,340.0 566.7,348.0 553.0,353.0 548.0,366.7 558.0,386.7 546.7,390.0 533.0,396.7 526.7,406.7 513.0,410.0 486.7,413.0 483.0,426.7 485.0,436.7 490.0,450.0 493.0,460.0 483.0,470.0 490.0,476.7 513.0,486.7 506.7,493.0 510.0,506.7 516.7,516.7 506.7,523.0 503.0,533.0 510.0,550.0 514.0,560.0 512.6,571.8 496.8,570.5 498.2,581.0 502.0,589.0 510.0,602.0 515.3,607.4 521.8,616.6 531.0,623.2 531.0,633.7 535.0,641.6 536.3,652.0 537.6,665.3 536.3,678.4 539.0,686.3 536.3,691.6 528.4,693.0 525.8,704.7 515.3,714.0 512.6,724.5 512.6,735.0 520.5,740.3 525.8,744.2 531.6,750.1 543.7,760.2 551.8,770.3 559.9,780.4 568.0,786.5 580.1,792.5 590.2,786.5 598.3,794.5 592.2,804.6 594.2,821.0"/><polyline points="594.2,821.0 582.1,820.8 572.0,820.8 559.9,814.7 547.8,810.7 537.7,806.7 527.6,800.6 515.5,798.6 501.3,792.5 491.2,790.5 485.2,784.4 483.1,776.4 475.0,770.3 467.0,762.2 456.9,758.2 452.8,760.2 450.8,770.3 442.7,772.3 438.7,776.4 434.6,788.5 430.6,794.5 422.5,800.6 410.4,806.7 400.3,810.7 390.2,816.8 382.1,820.8 376.1,832.9 374.3,840.0"/><polyline points="375.5,843.0 390.2,847.1 400.3,851.1 414.4,857.2 424.5,855.2 434.6,859.2 438.7,865.3 438.7,877.4 436.7,889.5 442.7,893.5 450.8,899.6 454.8,907.7 462.9,913.7 471.0,917.8 477.1,923.8 483.1,929.9 487.2,936.0 491.2,942.0 495.3,954.1 501.3,962.2 503.3,970.3 497.3,978.4 491.2,982.4 483.1,990.5 479.1,998.6 481.1,1012.7 483.1,1022.8 481.8,1030.0 476.8,1045.2 479.3,1060.3 476.8,1073.0 486.9,1090.6 476.8,1103.2 461.6,1098.2 446.5,1093.1 431.3,1098.2 418.7,1103.2 411.1,1115.9 396.0,1120.9 383.3,1123.4 375.8,1131.0 378.3,1143.6 365.7,1153.7 353.0,1161.3 337.9,1168.9 325.3,1171.4 317.7,1174.0"/><polyline points="313.0,1191.0 325.3,1196.7 337.9,1199.2 350.5,1201.7 360.6,1206.8 368.2,1219.4 375.8,1224.4 388.4,1218.1 401.0,1216.9 416.2,1219.4 426.3,1227.0 433.8,1244.6 438.9,1257.3 433.8,1269.9 428.8,1282.5 431.3,1297.7 431.3,1320.0"/><polyline points="594.2,821.0 592.2,835.0 594.2,851.1 596.3,865.3 598.3,881.4 602.3,889.5 612.4,889.5 624.5,887.5 636.7,891.5 646.8,895.6 654.8,897.6 665.0,893.5 677.0,893.5 685.2,889.5 689.2,881.4 697.3,877.4 705.5,875.0 713.5,881.0 720.0,890.0 725.6,901.0 728.3,911.0 731.0,919.0 730.3,929.0 740.4,933.0 756.6,943.0 770.7,939.0 784.8,931.0 795.0,931.0 807.0,935.0 813.0,933.0"/><polyline points="763.7,311.7 760.8,319.0 753.5,324.7 750.6,330.5 756.4,333.4 763.7,336.3 772.3,339.2 779.6,342.1 783.9,350.8 790.0,359.4 800.0,370.0 820.0,383.0 830.7,388.6 837.8,401.0 839.5,411.7 848.4,417.0 859.0,422.4 862.6,430.4 873.3,427.7 880.4,422.4 887.5,422.4"/><polyline points="887.5,422.4 896.4,431.3 903.5,440.1 907.0,447.3 907.0,456.1 894.6,461.5 885.7,465.0 878.6,470.3 878.6,482.8 880.4,493.4 887.5,498.8 892.8,505.9 887.5,514.8 885.7,525.4 876.8,529.0 875.0,536.0 882.2,543.2 878.6,552.0 876.8,564.5 875.0,578.7 877.2,594.2 873.7,612.0 866.6,622.6 864.8,638.6 866.6,654.6 866.6,679.5 873.7,686.6 877.2,695.5 880.8,713.2 880.8,731.0 875.5,743.4 866.6,752.3 866.6,768.3 861.3,775.4 859.5,786.0 847.0,787.8 841.7,796.7 838.2,803.8 836.4,811.0 836.4,828.7 837.4,842.0 833.3,850.2 835.4,866.4 829.3,872.4 821.2,876.5 813.1,882.5 803.0,888.6 801.0,896.7 803.0,906.8 799.0,916.9 807.0,925.0 813.0,933.0"/><polyline points="813.0,933.0 821.2,943.1 825.3,951.2 827.3,961.3 833.3,971.4"/><polyline points="833.3,971.4 823.2,979.5 819.2,987.6 817.2,999.7 813.1,1011.8 809.1,1021.9 811.1,1032.0 803.0,1038.1 799.0,1048.2 795.0,1055.3 793.0,1068.4 789.9,1080.5 789.7,1104.2 784.8,1128.5 780.0,1152.7 775.2,1177.0 763.0,1194.0 760.6,1203.6 767.9,1211.0 770.3,1225.5 767.2,1237.0 765.5,1249.7 755.8,1257.0 738.8,1247.3 726.7,1259.4 717.0,1269.0 717.0,1288.5 719.4,1303.0 709.7,1315.2 702.4,1324.0"/><polyline points="833.3,971.4 843.4,967.4 853.5,973.4 861.6,977.5 873.7,977.5 881.8,973.4 887.9,961.3 898.0,955.3 902.0,952.2 914.1,957.3 918.2,967.4"/><polyline points="918.2,967.4 918.2,975.5 924.2,983.5 932.3,991.6 938.4,1001.7 940.4,1015.9 948.5,1024.0 956.6,1034.0 960.6,1044.1 962.6,1052.2 962.6,1064.3 972.7,1068.4 982.8,1076.5 1000.6,1080.0 1015.0,1082.4 1034.5,1087.3 1054.0,1092.0 1068.5,1097.0 1071.0,1116.4 1078.2,1128.5 1092.7,1147.9 1080.6,1157.6 1083.0,1177.0 1066.0,1191.5 1083.0,1201.2 1087.9,1215.8 1100.0,1230.3 1102.4,1237.6 1075.8,1244.8 1073.3,1261.8 1071.0,1278.8 1068.5,1298.2 1056.4,1305.5 1056.4,1320.0 1073.3,1320.0 1083.0,1312.7 1092.7,1317.6 1097.6,1324.8 1097.6,1335.0"/><polyline points="918.2,967.4 922.2,961.3 930.3,959.3 940.4,955.3 942.4,945.2 948.5,933.0 956.6,927.0 966.7,916.9 976.8,908.8 984.8,894.6 990.9,882.5 997.0,870.4 995.0,858.3 988.9,854.2 1001.0,846.2 1009.1,848.2 1019.2,850.2 1029.3,852.2 1037.4,862.3 1043.4,870.4 1055.6,870.4 1063.6,868.4 1075.8,866.4 1085.7,875.8 1100.8,873.3 1111.0,878.3 1121.0,883.4 1133.7,880.9 1146.3,880.9 1161.5,883.4 1171.6,886.0 1184.2,893.5 1196.9,898.5 1212.0,896.0 1227.2,893.5 1239.8,896.0 1255.0,901.1 1262.5,908.7"/><polyline points="1262.5,908.7 1267.6,898.5 1270.1,888.4 1275.2,880.9 1282.8,875.8 1282.8,863.2 1280.2,848.0 1282.8,832.9 1287.8,822.8 1297.9,815.2 1300.4,802.5 1305.5,787.4 1310.6,782.3 1318.1,777.3 1333.3,774.8 1346.0,773.5"/><polyline points="1061.7,296.7 1073.0,306.7 1080.0,326.7 1083.0,330.0 1081.0,344.2 1077.6,362.0 1077.6,381.5 1086.5,392.2 1097.0,399.3 1104.2,401.0 1104.2,415.3 1104.2,429.5 1107.8,443.7 1106.0,458.0 1100.7,470.3 1084.7,475.7 1088.3,481.0 1093.6,490.0 1100.7,491.7 1111.3,491.7 1118.5,500.5 1118.5,514.8 1115.0,525.4 1111.3,539.6 1111.3,552.0 1118.5,566.3 1129.0,578.7 1136.2,585.8 1141.0,598.0 1138.7,610.5 1146.3,620.6 1161.5,623.2 1171.6,630.7 1184.2,633.3 1196.9,635.8 1212.0,640.8 1227.2,635.8 1242.3,634.5 1257.5,633.3 1265.0,638.3 1270.0,648.4 1275.2,661.0 1285.3,663.6 1298.0,668.6 1310.5,673.7 1315.6,686.3 1320.7,701.5 1323.2,706.5 1315.6,714.0 1313.0,721.7 1323.2,726.8 1328.2,736.9 1330.8,747.0 1338.3,757.0 1343.4,767.2 1346.0,773.5"/><polyline points="887.5,422.4 894.6,418.8 901.7,411.7 903.5,401.0 901.7,388.6 898.2,376.2 900.0,369.0 903.5,376.2 903.5,385.0 912.4,390.4 919.5,394.0 926.6,383.3 933.7,379.7 940.8,381.5 951.5,374.4 962.0,372.6 972.8,376.2 987.0,378.9 999.4,374.4 1003.0,381.5 1008.3,383.3 1019.0,390.4 1027.8,390.4 1028.7,379.7 1031.4,370.9 1042.0,363.8 1051.0,354.9 1054.5,346.0 1058.0,337.1 1056.3,330.0 1060.0,326.7 1056.7,306.7 1053.0,295.0"/><polyline points="1143.3,281.0 1160.0,300.0 1193.0,308.3 1200.0,313.3 1213.0,333.0 1226.7,350.0 1236.7,360.0 1246.7,373.0 1260.0,386.7 1263.0,406.7 1280.0,413.0 1293.0,420.0 1306.7,430.0 1320.0,436.7 1333.0,443.0 1346.7,445.0 1360.0,443.0 1373.0,430.0 1393.0,420.0 1406.7,416.7 1426.7,410.0 1440.0,400.0 1453.0,395.0 1466.7,400.0 1480.0,396.7 1493.0,395.0 1497.0,392.0"/><polyline points="1497.0,392.0 1506.7,400.0 1514.5,407.0 1526.7,413.0 1531.5,416.7 1540.0,421.7 1538.8,424.0 1533.0,430.0 1531.5,433.6 1526.7,441.0 1531.5,453.0 1538.8,462.7 1543.0,470.0 1548.5,472.4 1563.0,474.8 1577.6,479.7 1592.0,482.0 1601.8,490.0 1602.0,500.0 1597.0,511.0 1592.0,528.5 1587.3,545.5 1572.7,555.2 1548.5,560.0 1551.0,567.3 1563.0,574.5 1582.4,581.8 1587.3,589.0 1577.6,606.0 1575.2,625.5 1567.9,642.4 1569.0,649.7"/><polyline points="1569.0,649.7 1564.2,658.2 1558.2,666.7 1554.5,676.4 1551.0,684.8 1547.3,688.5 1541.2,688.5 1537.6,684.8 1534.0,678.8 1527.9,675.2 1524.2,674.0 1520.6,677.6 1513.3,678.8 1507.3,678.8"/><polyline points="1569.0,649.7 1574.0,659.4 1583.6,660.6 1593.3,665.5 1601.8,672.7 1610.3,675.2 1617.6,677.6 1618.8,678.8 1626.0,671.5 1631.0,659.4 1638.2,649.7 1650.3,637.6 1664.8,627.9 1679.4,625.5 1694.0,624.2 1713.3,625.5 1727.9,627.9 1735.0,624.2 1740.0,620.6 1742.4,630.3 1752.0,637.6 1759.4,644.8 1761.8,657.0 1774.0,666.7 1786.0,674.0 1795.8,681.2 1803.0,691.0 1815.0,695.8 1827.3,700.6 1839.4,706.7 1849.0,707.9 1856.4,703.0 1861.2,695.8 1864.0,691.0"/><polyline points="1346.0,773.5 1353.5,773.5 1361.0,779.8 1369.0,787.4 1378.8,784.9 1382.4,785.5 1386.0,789.0 1389.7,787.9 1395.8,783.0 1401.8,781.8 1407.9,775.8 1411.5,767.3 1412.7,755.2 1410.3,743.0 1406.7,737.0 1401.8,729.7 1395.8,720.0 1391.0,715.2 1393.3,705.5 1395.8,698.2 1400.6,694.5 1407.9,691.0 1414.0,688.5 1418.8,682.4 1422.4,677.6 1428.5,680.0 1434.5,678.8 1443.0,681.2 1446.7,687.3 1452.7,691.0 1458.8,695.8 1464.8,699.4 1469.7,700.6 1477.0,704.2 1483.0,705.5 1489.0,703.0 1496.4,699.4 1503.6,694.5 1506.0,688.5 1507.3,678.8"/><polyline points="1507.3,678.8 1513.3,682.4 1515.8,693.3 1514.5,703.0 1508.5,709.0 1507.3,717.6 1498.8,722.4 1496.4,729.7 1491.5,739.4 1490.3,746.7 1484.2,755.2 1483.0,766.0 1485.5,773.3 1486.7,785.5 1485.5,792.7 1486.7,800.0 1489.0,809.7 1496.4,812.0 1501.2,815.8 1503.6,820.0 1508.0,830.0 1512.0,835.0 1524.2,842.0 1543.6,851.8 1551.0,866.4 1553.3,890.6 1551.0,907.6 1558.2,939.0 1565.5,965.8 1555.8,970.6 1565.5,980.3 1558.2,985.0 1541.2,980.3 1538.8,990.0 1541.2,999.7 1555.8,1009.4 1570.3,1021.5 1582.4,1032.4 1594.5,1014.2 1606.7,1011.8 1621.2,1014.2 1626.0,1011.8"/><polyline points="1626.0,1011.8 1628.5,999.7 1635.8,980.3 1640.6,965.8 1643.0,951.2 1648.0,939.0 1644.2,927.0 1655.2,914.8 1664.8,922.0 1669.7,931.8 1679.4,917.3 1674.5,910.0 1669.7,897.9 1677.0,885.8 1691.5,881.0 1703.6,873.6 1713.3,865.2 1718.2,876.0 1732.7,880.9 1742.4,873.6 1747.3,861.5 1749.7,849.4 1759.4,845.8 1769.0,849.4 1781.2,851.8 1790.9,849.4 1796.0,842.0 1800.0,832.0 1800.6,814.5 1803.0,802.4 1807.9,792.7 1815.2,785.5 1822.4,778.2 1829.7,775.8 1834.5,780.6 1841.8,792.7 1849.0,795.2 1861.5,795.2"/><polyline points="1626.0,1011.8 1643.0,1024.0 1650.3,1036.0 1645.5,1043.3 1635.8,1048.2 1633.3,1060.3 1635.8,1077.3 1639.4,1087.0 1633.3,1091.8 1626.0,1099.0 1631.0,1109.7 1616.4,1119.4 1610.3,1126.7 1614.0,1132.7 1626.0,1126.7 1643.0,1136.4 1650.3,1143.6 1660.0,1148.5 1660.0,1172.7 1664.8,1197.0 1669.7,1211.5 1677.0,1226.0 1678.2,1232.0"/><polyline points="1262.5,908.7 1267.3,919.0 1270.8,926.2 1267.3,938.6 1267.3,951.0 1256.6,952.8 1256.6,960.0 1263.7,970.6 1267.3,986.6 1272.6,995.5 1278.0,1007.9 1272.6,1018.6 1276.1,1031.0 1276.1,1048.8 1267.3,1052.3 1262.0,1066.5 1262.0,1079.0 1274.4,1084.3 1283.2,1093.2 1297.5,1089.6 1301.0,1079.0 1310.0,1084.3 1315.2,1086.0 1311.7,1068.3 1310.0,1057.7 1318.8,1061.2 1327.7,1052.3 1334.8,1048.8 1338.3,1054.0 1347.2,1052.3 1352.5,1041.7 1356.0,1050.5 1363.2,1057.7 1365.0,1068.3 1366.7,1075.4 1363.2,1084.3 1366.7,1093.2 1364.4,1100.0 1362.6,1107.0 1350.3,1108.8 1346.7,1117.7 1341.4,1131.8 1334.3,1138.9 1329.0,1146.0 1323.7,1156.6 1313.1,1167.2 1311.4,1177.8 1300.8,1184.8 1300.8,1190.2 1304.3,1199.0 1311.4,1206.0 1307.8,1216.7 1316.7,1227.3 1320.2,1237.9 1327.3,1248.5 1339.7,1253.8 1348.5,1257.3 1355.6,1264.4 1362.6,1269.7 1357.3,1280.3 1355.6,1291.0 1362.6,1299.8 1375.0,1301.5 1376.8,1315.7 1366.2,1317.4 1368.0,1329.8 1369.7,1334.0"/><polyline points="1655.0,187.6 1649.0,193.6 1648.0,203.3 1650.3,213.0 1645.5,222.7 1635.8,232.4 1632.0,244.5 1621.0,244.5 1620.0,249.4 1631.0,254.2 1639.4,264.0 1638.2,271.2 1626.0,278.5 1618.8,290.6 1617.6,305.0 1618.8,319.7 1622.4,329.4 1611.5,334.2 1606.7,341.5 1601.8,348.8 1592.0,351.2 1582.4,348.8 1580.0,341.5 1570.3,346.4 1560.6,348.8 1559.4,356.0 1558.2,363.3 1548.5,365.8 1541.0,374.0 1534.0,366.0 1526.7,364.5 1521.8,368.2 1519.4,375.5 1509.7,380.3 1500.0,384.0 1497.0,392.0"/><polyline points="630.8,1324.0 638.4,1315.4 653.5,1310.3 663.6,1306.5 678.8,1307.8 688.9,1307.8 693.9,1312.8 696.5,1324.0"/><polygon points="1678.2,1232.0 1684.2,1235.8 1689.0,1239.4 1696.4,1234.5 1701.2,1245.5 1711.0,1243.0 1723.0,1240.6 1732.7,1233.3 1740.0,1235.8 1742.4,1245.5 1744.8,1257.6 1752.0,1267.3 1757.0,1279.4 1759.4,1294.0 1769.0,1303.6 1781.2,1313.3 1791.0,1323.5 1626.0,1328.0 1621.2,1313.3 1628.5,1308.5 1640.6,1306.0 1650.3,1298.8 1665.0,1296.4 1678.2,1294.0 1674.5,1274.5 1669.7,1257.6 1672.0,1245.5"/></g><polygon points="445.0,112.7 450.0,118.0 456.7,123.3 463.0,128.0 473.0,125.0 481.7,126.7 493.0,120.0 496.7,125.0 506.7,128.0 526.7,126.7 536.7,115.0 546.7,115.0 556.7,123.0 566.7,136.7 576.7,141.7 600.0,141.7 603.0,135.0 611.7,133.0 620.0,138.0 633.0,146.7 646.7,153.0 660.0,160.0 666.7,166.7 671.0,178.0 673.0,187.0 676.8,194.5 678.3,209.0 681.2,222.0 682.6,237.9 685.5,252.4 687.0,266.8 687.0,278.4 691.3,288.5 700.0,297.2 711.6,301.6 720.2,303.0 729.0,308.8 734.7,311.7 743.4,313.1 752.0,313.1 760.8,311.7 766.6,313.1 772.3,319.0 778.1,319.0 786.7,316.7 800.0,313.0 813.0,308.0 826.7,303.0 840.0,296.7 853.0,290.0 863.0,281.7 874.8,274.5 891.5,275.5 906.7,272.4 921.8,271.7 935.5,269.4 952.0,277.2 970.3,275.5 985.0,281.0 997.6,287.6 1000.0,291.7 1005.0,301.7 1013.0,301.7 1021.7,295.0 1033.0,291.7 1043.0,291.7 1056.7,295.0 1066.7,290.0 1086.7,281.7 1106.7,271.7 1120.0,265.0 1130.0,268.3 1141.7,280.0 1153.0,278.3 1173.0,275.0 1193.0,270.0 1203.0,266.0 1215.8,256.0 1226.7,252.0 1249.7,241.5 1274.0,236.7 1305.5,233.0 1313.0,225.0 1322.4,213.6 1337.0,217.3 1361.2,212.4 1388.0,208.8 1414.5,210.0 1429.0,202.7 1443.6,189.4 1857.6,177.9 1861.2,181.5 1863.6,191.2 1866.0,198.5 1873.3,205.8 1878.0,210.6 1883.0,220.3 1888.0,225.0 1897.6,224.0 1907.3,232.4 1917.0,236.0 1926.7,238.5 1934.0,247.0 1936.4,256.7 1943.6,268.8 1951.0,281.0 1952.0,288.0 1947.3,297.9 1941.0,310.0 1936.4,324.5 1934.0,334.0 1929.0,344.0 1924.0,353.6 1921.8,363.3 1917.0,373.0 1912.0,382.7 1909.7,392.4 1904.8,407.0 1900.0,421.5 1895.0,436.0 1890.3,450.6 1885.5,460.3 1883.0,470.0 1886.2,480.0 1882.9,493.4 1876.2,504.6 1871.7,513.5 1869.4,524.7 1856.0,531.4 1844.8,538.1 1840.4,551.6 1835.9,569.4 1831.4,585.1 1827.0,596.3 1820.3,603.0 1812.4,614.2 1814.7,632.1 1810.2,638.8 1813.5,650.0 1819.1,656.7 1815.8,665.6 1824.7,674.5 1833.7,672.3 1838.1,670.1 1844.8,679.0 1851.6,683.5 1856.0,679.0 1865.0,679.0 1867.2,692.4 1878.4,694.7 1884.0,701.4 1881.7,712.6 1878.4,714.8 1871.7,721.5 1869.4,726.0 1871.7,737.2 1877.3,746.1 1876.2,755.0 1871.7,759.5 1872.8,770.7 1870.6,781.9 1865.0,790.8 1861.6,795.3 1862.4,830.0 1874.5,1100.0 1884.2,1321.8 1791.0,1323.5 1700.0,1326.0 1614.0,1328.5 1500.0,1331.5 1376.8,1333.5 1200.0,1335.0 1063.6,1334.5 942.4,1332.0 797.0,1327.0 700.0,1324.0 552.5,1322.0 451.5,1320.0 350.5,1318.0 337.9,1305.3 325.3,1292.6 320.2,1277.5 315.2,1257.3 310.1,1239.6 307.6,1222.0 307.6,1206.8 310.1,1191.6 315.2,1171.4 317.7,1156.3 317.7,1141.1 312.6,1126.0 307.6,1110.8 300.0,1105.0 295.7,1100.0 294.0,1086.3 288.8,1076.0 294.0,1065.8 304.2,1045.3 314.5,1017.9 321.3,990.5 328.2,956.3 331.6,935.8 345.3,925.5 355.5,905.0 364.0,877.6 371.0,853.7 374.3,840.0 379.5,819.5 386.3,785.3 391.4,751.0 396.6,716.8 400.0,682.6 403.4,648.4 406.8,614.2 409.7,600.0 413.0,573.8 414.7,554.0 414.7,527.7 418.0,511.2 426.2,489.8 429.5,465.2 431.1,445.4 436.1,424.0 439.4,404.3 442.6,382.9 441.0,363.2 444.3,350.0 445.6,353.0 447.4,342.7 443.9,335.9 443.9,325.6 447.4,315.4 455.9,325.6 461.0,329.1 466.2,322.2 459.3,315.4 459.3,305.1 454.2,305.1 448.2,301.7 449.0,291.5 451.6,279.5 453.3,270.9 452.5,262.4 450.8,250.4 447.4,245.3 449.0,233.3 450.8,219.7 451.6,207.7 449.9,204.3 445.6,197.4 445.6,192.3 450.8,187.2 457.6,182.0 461.0,175.2 459.3,165.0 457.6,147.9 454.2,130.8 449.9,117.1" fill="none" stroke="#000" stroke-width="3" stroke-linejoin="round"/>
<g font-family="Liberation Sans, Arial, sans-serif" fill="#000">
<text x="878.2" y="160.8" font-size="32.4" font-weight="bold" text-anchor="middle">Hood, Sandy,</text>
<text x="882.4" y="197.7" font-size="32.4" font-weight="bold" text-anchor="middle">Lower Deschutes</text>
<text x="1311.5" y="170" font-size="32.4" font-weight="bold" text-anchor="middle">Umatilla, Walla Walla, Willow</text>
<text x="1765.5" y="226.5" font-size="32.4" font-weight="bold" text-anchor="middle">Grande Ronde,</text>
<text x="1765.5" y="263.5" font-size="32.4" font-weight="bold" text-anchor="middle">Powder, Burnt,</text>
<text x="1769.7" y="301.5" font-size="32.4" font-weight="bold" text-anchor="middle">Imnaha</text>
<text x="760.8" y="486.7" font-size="32.4" font-weight="bold" text-anchor="middle">Willamette</text>
<text x="1445" y="603.5" font-size="32.4" font-weight="bold" text-anchor="middle">John Day</text>
<text x="1697" y="720" font-size="32.4" font-weight="bold" text-anchor="middle">Malheur</text>
<text x="1106" y="802.5" font-size="32.4" font-weight="bold" text-anchor="middle">Upper Deschutes,</text>
<text x="1109.7" y="838" font-size="32.4" font-weight="bold" text-anchor="middle">Crooked</text>
<text x="1111.3" y="967.5" font-size="32.4" font-weight="bold" text-anchor="middle">Lake County,</text>
<text x="1115.5" y="1005" font-size="32.4" font-weight="bold" text-anchor="middle">Goose Lake</text>
<text x="640.2" y="998.6" font-size="32.4" font-weight="bold" text-anchor="middle">Rogue, Umpqua</text>
<text x="906" y="1120" font-size="32.4" font-weight="bold" text-anchor="middle">Klamath</text>
<text x="1486.3" y="1110" font-size="32.4" font-weight="bold" text-anchor="middle">Harney</text>
<text x="1755.2" y="1184.8" font-size="32.4" font-weight="bold" text-anchor="middle">Owyhee</text>
</g>
<g font-family="Liberation Sans, Arial, sans-serif" font-size="46.5" font-weight="bold" text-anchor="middle" fill="#fff" stroke="#000" stroke-width="9.6" stroke-linejoin="round" paint-order="stroke">
<text transform="translate(915.8,355) scale(0.91,1)">123</text>
<text transform="translate(697.5,607.5) scale(0.91,1)">135</text>
<text transform="translate(1397.5,335) scale(0.91,1)">127</text>
<text transform="translate(1720.6,425) scale(0.91,1)">125</text>
<text transform="translate(1340,547.5) scale(0.91,1)">162</text>
<text transform="translate(1077.5,709) scale(0.91,1)">125</text>
<text transform="translate(1648,795) scale(0.91,1)">130</text>
<text transform="translate(638.4,1102) scale(0.91,1)">136</text>
<text transform="translate(920,1205) scale(0.91,1)">151</text>
<text transform="translate(1175,1130) scale(0.91,1)">174</text>
<text transform="translate(1446,1035.7) scale(0.91,1)">200</text>
<text transform="translate(1761,1088) scale(0.91,1)">174</text>
</g>
<line x1="875.9" y1="214.5" x2="875.9" y2="260.5" stroke="#000" stroke-width="4.6"/><polygon points="866.6999999999999,259.5 885.1,259.5 875.9,274.5" fill="#000"/>
<line x1="1199.5" y1="189.4" x2="1199.5" y2="238.9" stroke="#000" stroke-width="4.6"/><polygon points="1190.3,237.9 1208.7,237.9 1199.5,253.6" fill="#000"/>
<g font-family="Liberation Sans, Arial, sans-serif">
<circle cx="1484" cy="283.7" r="4.2" fill="#fff" stroke="#000" stroke-width="2"/><text x="1491.3" y="274.3" font-size="15.6" fill="#000" stroke="#fff" stroke-width="2.4" stroke-linejoin="round" paint-order="stroke">Pendleton</text>
<circle cx="1789" cy="345" r="4.2" fill="#fff" stroke="#000" stroke-width="2"/><text x="1797.2" y="337.7" font-size="15.6" fill="#000" stroke="#fff" stroke-width="2.4" stroke-linejoin="round" paint-order="stroke">Enterprise</text>
<circle cx="1683.5" cy="535.5" r="4.2" fill="#fff" stroke="#000" stroke-width="2"/><text x="1690.5" y="524.6" font-size="15.6" fill="#000" stroke="#fff" stroke-width="2.4" stroke-linejoin="round" paint-order="stroke">Baker City</text>
<circle cx="1440.7" cy="880.6" r="4.2" fill="#fff" stroke="#000" stroke-width="2"/><text x="1448.5" y="870.5" font-size="15.6" fill="#000" stroke="#fff" stroke-width="2.4" stroke-linejoin="round" paint-order="stroke">Burns</text>
<circle cx="973.2" cy="748" r="4.2" fill="#fff" stroke="#000" stroke-width="2"/><text x="981" y="738.2" font-size="15.6" fill="#000" stroke="#fff" stroke-width="2.4" stroke-linejoin="round" paint-order="stroke">Bend</text>
<circle cx="608" cy="742" r="4.2" fill="#fff" stroke="#000" stroke-width="2"/><text x="616.2" y="732" font-size="15.6" fill="#000" stroke="#fff" stroke-width="2.4" stroke-linejoin="round" paint-order="stroke">Eugene</text>
<circle cx="638.4" cy="1235.5" r="4.2" fill="#fff" stroke="#000" stroke-width="2"/><text x="645" y="1225.4" font-size="15.6" fill="#000" stroke="#fff" stroke-width="2.4" stroke-linejoin="round" paint-order="stroke">Medford</text>
<text x="570.7" y="476.7" font-size="15.6" fill="#000" stroke="#fff" stroke-width="2.4" stroke-linejoin="round" paint-order="stroke">Salem</text>
</g>
<circle cx="626.7" cy="487" r="8" fill="#fff" stroke="#555" stroke-width="1"/>
<polygon points="626.7,480.8 628.3,485.0 632.9,485.3 629.4,488.2 630.5,492.6 626.7,490.1 622.9,492.6 624.0,488.2 620.5,485.3 625.1,485.0" fill="#f4e23c" stroke="#000" stroke-width="1.2" stroke-linejoin="miter"/>
<polygon points="710.0,334.0 713.2,342.6 722.4,343.0 715.1,348.7 717.6,357.5 710.0,352.4 702.4,357.5 704.9,348.7 697.6,343.0 706.8,342.6" fill="#fff" stroke="#000" stroke-width="2.2" stroke-linejoin="miter"/>
<text x="603.3" y="374" font-family="DejaVu Sans, Verdana, sans-serif" font-weight="bold" font-size="18.3" fill="#000" stroke="#fff" stroke-width="3" stroke-linejoin="round" paint-order="stroke">Portland</text>
<g transform="translate(551.3,896.2)"><path d="M-12,0 Q-6,2.2 0,-0.2 Q6,2.2 12,0 C13.2,6 13,10 10,14 Q6,19 0,21 Q-6,19 -10,14 C-13,10 -13.2,6 -12,0 Z" fill="#fff" stroke="#000" stroke-width="1.6" stroke-linejoin="round"/><line x1="-12.3" y1="5.4" x2="12.3" y2="5.4" stroke="#000" stroke-width="1.5"/><text x="0" y="18.2" font-family="Liberation Sans, Arial, sans-serif" font-weight="bold" font-size="14.5" text-anchor="middle" fill="#000">5</text></g>
<g transform="translate(1755.5,567.4)"><path d="M-12,0 Q-6,2.2 0,-0.2 Q6,2.2 12,0 C13.2,6 13,10 10,14 Q6,19 0,21 Q-6,19 -10,14 C-13,10 -13.2,6 -12,0 Z" fill="#fff" stroke="#000" stroke-width="1.6" stroke-linejoin="round"/><line x1="-12.3" y1="5.4" x2="12.3" y2="5.4" stroke="#000" stroke-width="1.5"/><text x="0" y="18.2" font-family="Liberation Sans, Arial, sans-serif" font-weight="bold" font-size="14.5" text-anchor="middle" fill="#000">84</text></g>
<text y="60.5" font-family="DejaVu Sans, Verdana, sans-serif" font-weight="bold" font-size="35" fill="#000"><tspan x="356.9">Oregon</tspan> <tspan x="509.7">SNOTEL</tspan> <tspan x="675.5">Current</tspan> <tspan x="833.8">Snow</tspan> <tspan x="954.1" textLength="116.5" lengthAdjust="spacingAndGlyphs">Water</tspan> <tspan x="1083.4" textLength="205.6" lengthAdjust="spacingAndGlyphs">Equivalent</tspan> <tspan x="1301.2" textLength="125.3" lengthAdjust="spacingAndGlyphs">(SWE)</tspan> <tspan x="1439.4" textLength="41.9" lengthAdjust="spacingAndGlyphs">%</tspan> <tspan x="1495">of</tspan> <tspan x="1544.5">Normal</tspan></text>
<text y="139.1" font-family="DejaVu Sans, Verdana, sans-serif" font-weight="bold" font-size="35" fill="#000"><tspan x="33.4">Mar</tspan> <tspan x="119.5">25,</tspan> <tspan x="193.8">2023</tspan></text>
<g font-family="Liberation Sans, Arial, sans-serif" font-weight="bold" font-size="29.3" fill="#000">
<text x="34.4" y="433.9">Current Snow Water</text>
<text x="34.4" y="467.6">Equivalent (SWE)</text>
<text x="34.4" y="501.3">Basin-wide Percent</text>
<text x="34.4" y="535.0">of 1991-2020 Median</text>
</g>
<g font-family="Liberation Sans, Arial, sans-serif" font-size="23.8" fill="#000">
<rect x="35" y="578.8" width="79.8" height="39.2" rx="1" fill="#ffffff" stroke="#000" stroke-width="2.2"/>
<text x="128.7" y="607.8">unavailable *</text>
<rect x="35" y="633.1" width="79.8" height="39.2" rx="1" fill="#e60000" stroke="#000" stroke-width="2.2"/>
<text x="128.7" y="662.1">&lt;50%</text>
<rect x="35" y="687.4" width="79.8" height="39.2" rx="1" fill="#e69800" stroke="#000" stroke-width="2.2"/>
<text x="128.7" y="716.4">50 - 69%</text>
<rect x="35" y="741.7" width="79.8" height="39.2" rx="1" fill="#e6e600" stroke="#000" stroke-width="2.2"/>
<text x="128.7" y="770.7">70 - 89%</text>
<rect x="35" y="796.0" width="79.8" height="39.2" rx="1" fill="#4ce600" stroke="#000" stroke-width="2.2"/>
<text x="128.7" y="825.0">90 - 109%</text>
<rect x="35" y="850.3" width="79.8" height="39.2" rx="1" fill="#73ffdf" stroke="#000" stroke-width="2.2"/>
<text x="128.7" y="879.3">110 - 129%</text>
<rect x="35" y="904.6" width="79.8" height="39.2" rx="1" fill="#00a9e6" stroke="#000" stroke-width="2.2"/>
<text x="128.7" y="933.6">130 - 149%</text>
<rect x="35" y="958.9" width="79.8" height="39.2" rx="1" fill="#0800ff" stroke="#000" stroke-width="2.2"/>
<text x="128.7" y="987.9">&gt;=150%</text>
</g>
<g font-family="Liberation Sans, Arial, sans-serif" font-style="italic" font-size="18.6" fill="#000">
<text x="36.5" y="1069.4" font-style="normal">*</text>
<text x="57.3" y="1069.4">Data unavailable at time</text>
<text x="55.3" y="1090.9">of posting or measurement</text>
<text x="55.3" y="1112.3">is not representative at this</text>
<text x="55.3" y="1133.3">time of year</text>
</g>
<g font-family="Liberation Sans, Arial, sans-serif" font-style="italic" font-weight="bold" font-size="23.7" fill="#cc0f1c">
<text x="35.2" y="1230">Provisional Data</text>
<text x="35.6" y="1258.1">Subject to Revision</text>
</g>
<g font-family="Liberation Sans, Arial, sans-serif" font-size="21.3" fill="#000">
<text x="256.3" y="1414.3">The snow water equivalent percent of normal represents the current</text>
<text x="256.3" y="1438.4">snow water equivalent found at selected SNOTEL sites in or near the basin</text>
<text x="256.3" y="1462.5">compared to the average value for those sites on this day. Data based on</text>
<text x="256.3" y="1486.6">the first reading of the day (typically 00:00).</text>
<text x="1349.3" y="1413.5">Prepared by:</text>
<text x="1349.3" y="1437.3">USDA/NRCS National Water and Climate Center</text>
<text x="1349.3" y="1462.3">Portland, Oregon</text>
<text x="1349.3" y="1486">https://www.nrcs.usda.gov/wps/portal/wcc/home/</text>
</g>
<rect x="1341.4" y="1346" width="415.4" height="10.6" fill="#000"/>
<rect x="1359.8" y="1348" width="13.6" height="6.2" fill="#fff"/>
<rect x="1393.1" y="1348" width="13.9" height="6.2" fill="#fff"/>
<rect x="1426.5" y="1348" width="79.0" height="6.2" fill="#fff"/>
<rect x="1592.1" y="1348" width="80.1" height="6.2" fill="#fff"/>
<g font-family="Liberation Sans, Arial, sans-serif" font-size="20.8" fill="#000" text-anchor="middle">
<text x="1342.1" y="1380.9">0</text>
<text x="1383" y="1380.9">10</text>
<text x="1424" y="1380.9">20</text>
<text x="1506.8" y="1380.9">40</text>
<text x="1590" y="1380.9">60</text>
<text x="1672.6" y="1380.9">80</text>
<text x="1756.1" y="1380.9">100</text>
<text x="1763.2" y="1355.6" text-anchor="start" font-size="20.5">Miles</text>
</g>
<text x="36.4" y="1368" font-family="Liberation Serif, Times New Roman, serif" font-size="51" fill="#4a4f9f" stroke="#4a4f9f" stroke-width="1.3" textLength="119.2" lengthAdjust="spacingAndGlyphs">USDA</text>
<rect x="37.2" y="1373.3" width="118.4" height="42.4" fill="#4a9674"/>
<path d="M37.2,1378 L37.2,1381.6 L75.7,1378.9 Z" fill="#fff"/>
<path d="M37.2,1385.7 Q80,1378.4 155.6,1378 L155.6,1382.8 Q85,1383 37.2,1391 Z" fill="#fff"/>
<path d="M37.2,1394.6 Q70,1386 122,1383.6 Q75,1388.2 37.2,1398.8 Z" fill="#fff"/>
<path d="M38,1461 A26.5,26.5 0 0 0 91.5,1461" fill="none" stroke="#1ea58c" stroke-width="6.8"/>
<path d="M65,1432.5 C59,1441 50,1450 50,1461.5 A15,15 0 0 0 80,1461.5 C80,1450 71,1441 65,1432.5 Z" fill="none" stroke="#1f6fb8" stroke-width="6.6" stroke-linejoin="round"/>
<text x="99.8" y="1487" font-family="DejaVu Sans, sans-serif" font-weight="200" font-size="79" fill="#1b6db3" stroke="#1b6db3" stroke-width="0.7" textLength="138.6" lengthAdjust="spacingAndGlyphs">NRCS</text>
</svg>
</body></html>
